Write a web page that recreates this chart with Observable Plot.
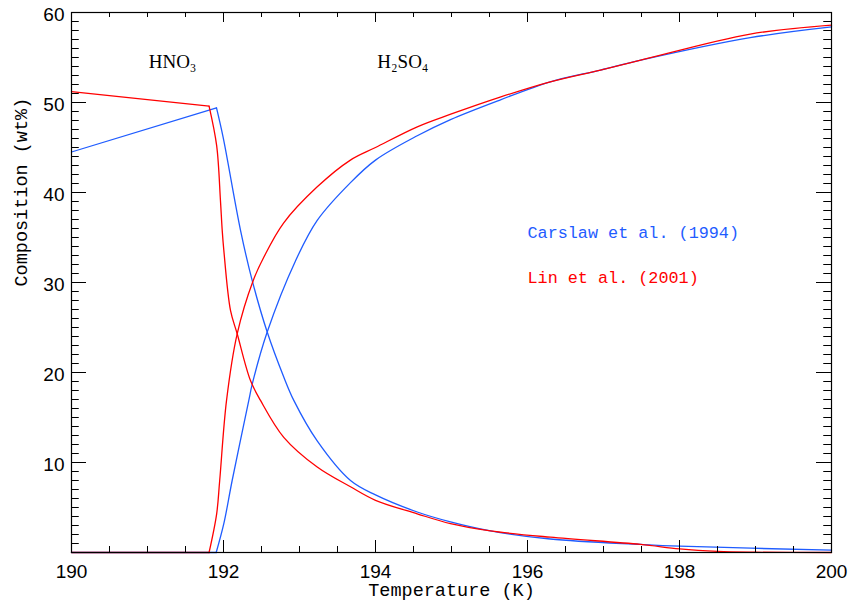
<!DOCTYPE html>
<html><head><meta charset="utf-8">
<script src="https://cdn.jsdelivr.net/npm/d3@7"></script>
<script src="https://cdn.jsdelivr.net/npm/@observablehq/plot@0.6"></script>
<style>body{margin:0;background:#fff}</style>
</head><body><div id="chart"></div>
<script>
// Carslaw et al. (1994)
const carslawHNO3T = [190, 191.908, 191.996, 192.224, 192.378, 192.575, 192.793, 192.925, 193.233, 193.671, 194.0, 194.549, 194.987, 195.513, 196.30, 197.487, 198.0, 200.0];
const carslawHNO3  = [44.5, 49.4, 46.1, 35.8, 30.2, 24.5, 19.5, 16.9, 12.4, 8.0, 6.4, 4.5, 3.4, 2.4, 1.5, 0.9, 0.7, 0.26];
const carslawH2SO4T = [190, 191.904, 192.004, 192.114, 192.333, 192.378, 192.575, 192.947, 193.233, 193.671, 194.0, 194.549, 194.987, 195.645, 196.30, 196.96, 197.49, 198.93, 200.0];
const carslawH2SO4  = [0, 0, 3.2, 8.0, 16.9, 18.7, 24.5, 32.4, 36.9, 41.1, 43.6, 46.3, 48.1, 50.3, 52.3, 53.6, 54.7, 57.2, 58.4];
// Lin et al. (2001)
const linHNO3T = [190, 191.81, 191.91, 191.96, 191.983, 192.004, 192.092, 192.18, 192.355, 192.487, 192.793, 193.233, 193.671, 194.0, 194.549, 194.987, 195.513, 196.30, 197.487, 198.0, 198.5, 199.0, 200.0];
const linHNO3  = [51.2, 49.6, 45.2, 39.1, 35.8, 33.6, 26.9, 24.3, 19.1, 16.9, 12.8, 9.5, 7.3, 5.8, 4.3, 3.2, 2.4, 1.7, 0.9, 0.4, 0.12, 0.03, 0.0];
const linH2SO4T = [190, 191.81, 191.91, 191.95, 192.04, 192.18, 192.39, 192.53, 192.79, 193.23, 193.67, 194.0, 194.55, 194.99, 195.64, 196.30, 196.96, 197.49, 198.93, 200.0];
const linH2SO4  = [0, 0, 4.3, 8.0, 16.9, 24.3, 30.2, 32.8, 36.6, 40.6, 43.6, 45.0, 47.3, 48.7, 50.6, 52.3, 53.6, 54.7, 57.6, 58.6];

const xMajor = [190, 192, 194, 196, 198, 200];
const xMinor = d3.range(190, 200.001, 0.5);
const yMajor = [10, 20, 30, 40, 50, 60];
const yMinor = d3.range(0, 60.001, 1);

const legendLabels = ["Carslaw et al. (1994)", "Lin et al. (2001)"];
const speciesLabels = ["HNO₃", "H₂SO₄"];

const BLUE = "#1f5cff", RED = "#ff0000";
const toPts = (T, V) => T.map((t, i) => ({T: t, v: V[i]}));

const mono = "Liberation Mono, DejaVu Sans Mono, monospace";
const serif = "Liberation Serif, DejaVu Serif, serif";

const W = 850, H = 608, ML = 71, MR = 19, MT = 12, MB = 56;
const xDomain = [190, 200], yDomain = [0, 60];
const xPerPx = (xDomain[1] - xDomain[0]) / (W - ML - MR);
const yPerPx = (yDomain[1] - yDomain[0]) / (H - MT - MB);

// each curve: straight first segment (up to the break point), smooth afterwards
function curveMarks(T, V, color) {
  const pts = toPts(T, V);
  return [
    Plot.line(pts.slice(0, 2), {x: "T", y: "v", stroke: color, strokeWidth: 1.3}),
    Plot.line(pts.slice(1), {x: "T", y: "v", stroke: color, strokeWidth: 1.3, curve: "catmull-rom"})
  ];
}

function xTicks(ticks, lenBottom, lenTop) {
  return [
    Plot.ruleX(ticks, {x: d => d, y1: yDomain[0], y2: yDomain[0] + lenBottom * yPerPx, stroke: "black", strokeWidth: 1}),
    Plot.ruleX(ticks, {x: d => d, y1: yDomain[1], y2: yDomain[1] - lenTop * yPerPx, stroke: "black", strokeWidth: 1})
  ];
}
function yTicks(ticks, len) {
  return [
    Plot.ruleY(ticks, {y: d => d, x1: xDomain[0], x2: xDomain[0] + len * xPerPx, stroke: "black", strokeWidth: 1}),
    Plot.ruleY(ticks, {y: d => d, x1: xDomain[1], x2: xDomain[1] - len * xPerPx, stroke: "black", strokeWidth: 1})
  ];
}

const chart = Plot.plot({
  width: W, height: H,
  marginLeft: ML, marginRight: MR, marginTop: MT, marginBottom: MB,
  style: {fontFamily: "Liberation Sans, Arial, sans-serif", fontSize: "19px", background: "white", color: "black", overflow: "visible"},
  x: {domain: xDomain},
  y: {domain: yDomain},
  marks: [
    ...curveMarks(carslawHNO3T, carslawHNO3, BLUE),
    ...curveMarks(carslawH2SO4T, carslawH2SO4, BLUE),
    ...curveMarks(linHNO3T, linHNO3, RED),
    ...curveMarks(linH2SO4T, linH2SO4, RED),
    ...xTicks(xMinor, 6, 5),
    ...xTicks(xMajor, 12, 10),
    ...yTicks(yMinor, 7.5),
    ...yTicks(yMajor, 15),
    Plot.axisX({anchor: "bottom", ticks: xMajor, tickSize: 0, tickPadding: 12, label: null, fontSize: 19}),
    Plot.axisY({anchor: "left", ticks: yMajor, tickSize: 0, tickPadding: 7, label: null, fontSize: 19, dy: 2}),
    Plot.text(["Temperature (K)"], {text: d => d, frameAnchor: "bottom", dy: 43, fontFamily: mono, fontSize: 18.5}),
    Plot.text(["Composition (wt%)"], {text: d => d, frameAnchor: "left", dx: -50, dy: 4, rotate: -90, fontFamily: mono, fontSize: 18.5}),
    Plot.text([speciesLabels[0]], {text: d => d, x: 191.33, y: 54.5, fontFamily: serif, fontSize: 19}),
    Plot.text([speciesLabels[1]], {text: d => d, x: 194.36, y: 54.5, fontFamily: serif, fontSize: 19}),
    Plot.text([legendLabels[0]], {text: d => d, x: 196.0, y: 35.55, textAnchor: "start", fill: BLUE, fontFamily: mono, fontSize: 16.8}),
    Plot.text([legendLabels[1]], {text: d => d, x: 196.0, y: 30.5, textAnchor: "start", fill: RED, fontFamily: mono, fontSize: 16.8}),
    Plot.frame({stroke: "black", strokeWidth: 1.2})
  ]
});
document.getElementById("chart").appendChild(chart);

// inward ticks on all four sides, placed with the plot's own x and y scales
try {
  const sx = chart.scale("x"), sy = chart.scale("y");
  const X = v => sx.apply(v), Y = v => sy.apply(v);
  const g = d3.select(chart).append("g").attr("stroke", "black").attr("stroke-width", 1).attr("fill", "none");
  const seg = (x1, y1, x2, y2) => g.append("line").attr("x1", x1).attr("y1", y1).attr("x2", x2).attr("y2", y2);
  const yB = Y(yDomain[0]), yT = Y(yDomain[1]), xL = X(xDomain[0]), xR = X(xDomain[1]);
  const xTickSet = (ticks, lb, lt) => ticks.forEach(t => { const p = Math.round(X(t)) + 0.5; seg(p, yB, p, yB - lb); seg(p, yT, p, yT + lt); });
  const yTickSet = (ticks, l) => ticks.forEach(t => { const p = Math.round(Y(t)) + 0.5; seg(xL, p, xL + l, p); seg(xR, p, xR - l, p); });
  xTickSet(xMinor, 6, 5);
  xTickSet(xMajor, 12, 10);
  yTickSet(yMinor, 7.5);
  yTickSet(yMajor, 15);
} catch (e) {}
</script>
</body></html>
